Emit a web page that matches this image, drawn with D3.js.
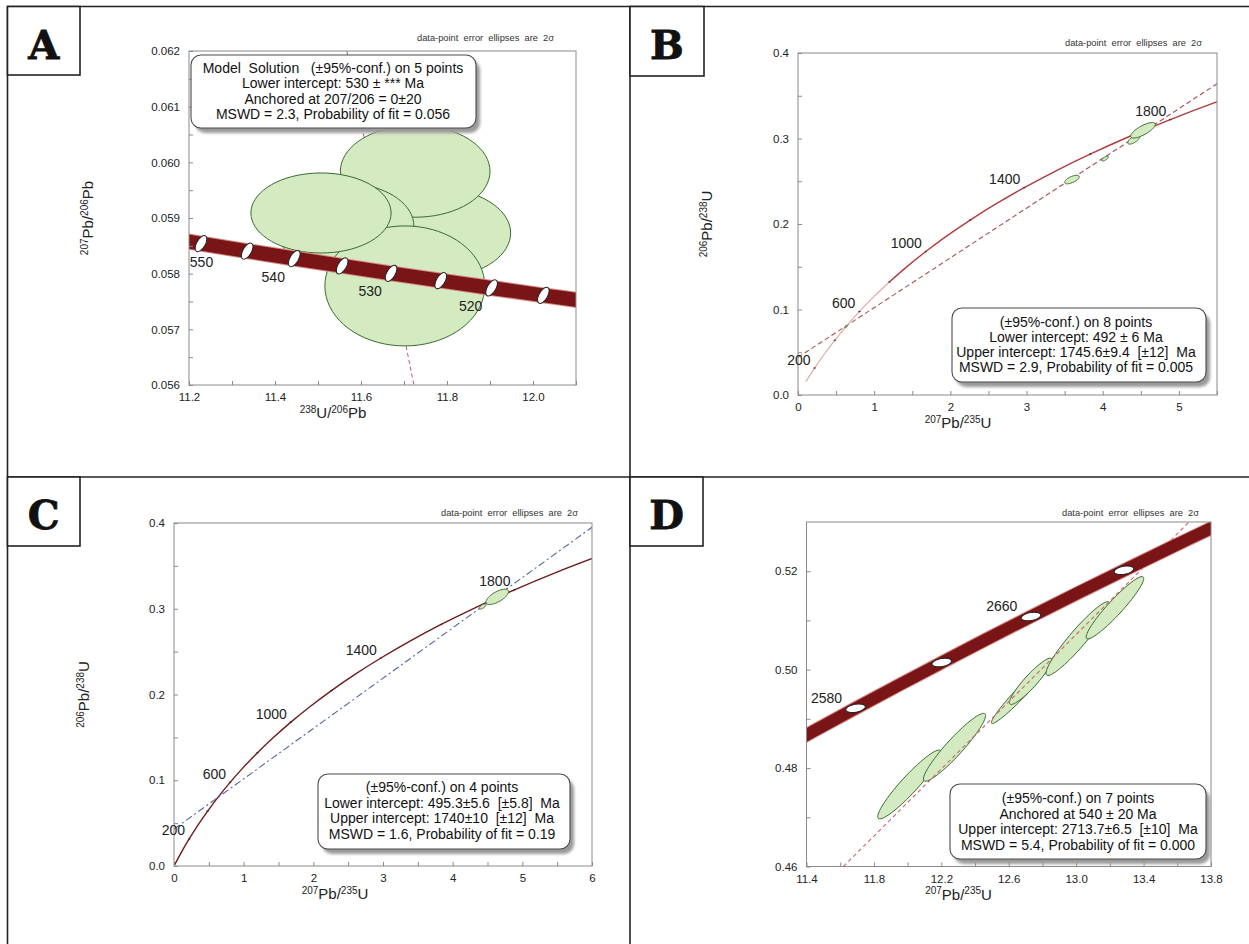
<!DOCTYPE html>
<html><head><meta charset="utf-8">
<script src="https://cdn.jsdelivr.net/npm/d3@7"></script>
<style>
html,body{margin:0;padding:0;background:#fff;}
svg text{font-family:"Liberation Sans",Arial,Helvetica,sans-serif;}
</style></head><body>
<svg id="fig" width="1249" height="944"></svg>
<script>
// ================= DATA =================
// Panel A : Tera-Wasserburg concordia (age, 238U/206Pb, 207Pb/206Pb)
const aConcAge = [510,515,520,525,530,535,540,545,550,555];
const aConcX = [12.1467,12.0240,11.9037,11.7854,11.6699,11.5562,11.4448,11.3353,11.2279,11.1222];
const aConcY = [0.057481,0.057611,0.057743,0.057874,0.058006,0.058139,0.058272,0.058405,0.058539,0.058673];
const aMarkerAges = [515,520,525,530,535,540,545,550];
const aLabelAges = [520,530,540,550];
// error ellipses: [x, 2s x, y, 2s y, rho]
const aEllipses = [
  [11.774,0.174,0.05873,0.000808,0],
  [11.726,0.174,0.05984,0.000826,0],
  [11.560,0.163,0.058856,0.000772,0],
  [11.702,0.186,0.05778,0.001078,0],
  [11.507,0.163,0.05909,0.000719,0]
];
const aLineX = [11.567,11.723], aLineY = [0.062,0.056];
const aXTicks = [11.2,11.4,11.6,11.8,12.0], aXMinor = [11.3,11.5,11.7,11.9,12.1];
const aYTicks = [0.056,0.057,0.058,0.059,0.060,0.061,0.062];
const aYMinor = [0.0565,0.0575,0.0585,0.0595,0.0605,0.0615];
const aBoxLines = ["Model  Solution   (±95%-conf.) on 5 points","Lower intercept: 530 ± *** Ma","Anchored at 207/206 = 0±20","MSWD = 2.3, Probability of fit = 0.056"];

// Panels B, C : Wetherill concordia (age, 207Pb/235U, 206Pb/238U)
const wAge = [0,100,200,300,400,500,600,700,800,900,1000,1100,1200,1300,1400,1500,1600,1700,1800,1900,2000];
const wX = [0,0.103498,0.217709,0.343737,0.482811,0.636280,0.805631,0.992510,1.198730,1.426296,1.677409,1.954516,2.260302,2.597739,2.970093,3.380990,3.834413,4.334766,4.886897,5.496178,6.168532];
const wY = [0,0.015633,0.031511,0.047637,0.064016,0.080650,0.097544,0.114702,0.132126,0.149823,0.167800,0.186055,0.204597,0.223427,0.242552,0.261975,0.281703,0.301738,0.322087,0.342753,0.363747];
const wMarkerAges = [200,400,600,800,1000,1200,1400,1600,1800];
const wLabelAges = [200,600,1000,1400,1800];

const bEllipses = [
  [0.630,0.020,0.0800,0.0013,0.7],
  [3.596,0.0954,0.2520,0.00503,0.65],
  [4.030,0.045,0.2765,0.0028,0.7],
  [4.410,0.0807,0.2990,0.00562,0.68],
  [4.528,0.162,0.3096,0.00909,0.76]
];
const bLineX = [0,5.5], bLineY = [0.044,0.364];
const bXTicks = [0,1,2,3,4,5], bXMinor = [0.5,1.5,2.5,3.5,4.5,5.5];
const bYTicks = [0,0.1,0.2,0.3,0.4], bYMinor = [0.05,0.15,0.25,0.35];
const bBoxLines = ["(±95%-conf.) on 8 points","Lower intercept: 492 ± 6 Ma","Upper intercept: 1745.6±9.4  [±12]  Ma","MSWD = 2.9, Probability of fit = 0.005"];

const cEllipses = [
  [4.430,0.050,0.3026,0.0030,0.7],
  [4.640,0.162,0.3139,0.00894,0.68]
];
const cLineX = [0,6], cLineY = [0.043,0.395];
const cXTicks = [0,1,2,3,4,5,6], cXMinor = [0.5,1.5,2.5,3.5,4.5,5.5];
const cYTicks = [0,0.1,0.2,0.3,0.4], cYMinor = [0.05,0.15,0.25,0.35];
const cBoxLines = ["(±95%-conf.) on 4 points","Lower intercept: 495.3±5.6  [±5.8]  Ma","Upper intercept: 1740±10  [±12]  Ma","MSWD = 1.6, Probability of fit = 0.19"];

// Panel D : Wetherill concordia, zoomed
const dConcAge = [2520,2540,2560,2580,2600,2620,2640,2660,2680,2700,2720,2740];
const dConcX = [10.963040,11.201012,11.443719,11.691253,11.943704,12.202486,12.463792,12.731612,13.004771,13.283351,13.567481,13.857264];
const dConcY = [0.478333,0.482927,0.487535,0.492157,0.496793,0.501444,0.506111,0.510791,0.515484,0.520193,0.524917,0.529656];
const dMarkerAges = [2580,2620,2660,2700];
const dLabelAges = [2580,2660];
const dEllipses = [
  [12.011,0.1885,0.47667,0.00700,0.935],
  [12.278,0.1845,0.48422,0.00690,0.935],
  [12.679,0.182,0.49558,0.00653,0.970],
  [12.730,0.126,0.49763,0.0047,0.920],
  [13.010,0.189,0.50631,0.0075,0.940],
  [13.230,0.171,0.51258,0.00633,0.940]
];
const dLineX = [11.619,13.670], dLineY = [0.46,0.53];
const dXTicks = [11.4,11.8,12.2,12.6,13.0,13.4,13.8], dXMinor = [11.6,12.0,12.4,12.8,13.2,13.6];
const dYTicks = [0.46,0.48,0.50,0.52], dYMinor = [0.47,0.49,0.51];
const dBoxLines = ["(±95%-conf.) on 7 points","Anchored at 540 ± 20 Ma","Upper intercept: 2713.7±6.5  [±10]  Ma","MSWD = 5.4, Probability of fit = 0.000"];

const panelLetters = ["A","B","C","D"];
const noteText = "data-point  error  ellipses  are  2σ";

// ================= DRAWING =================
const svg = d3.select("#fig");
const defs = svg.append("defs");
defs.append("filter").attr("id","shadowBlur").attr("x","-10%").attr("y","-10%").attr("width","130%").attr("height","130%")
  .append("feGaussianBlur").attr("stdDeviation",1.6);

const ELL_FILL = "#d4eac1", ELL_STROKE = "#3b6a31";

function makePanel(id, L, R, T, B, xd, yd) {
  const g = svg.append("g");
  const x = d3.scaleLinear().domain(xd).range([L, R]);
  const y = d3.scaleLinear().domain(yd).range([B, T]);
  defs.append("clipPath").attr("id", "clip" + id).append("rect")
    .attr("x", L).attr("y", T).attr("width", R - L).attr("height", B - T);
  const plot = g.append("g").attr("clip-path", `url(#clip${id})`);
  return {g, x, y, plot, L, R, T, B};
}

function styleAxis(sel) {
  sel.select(".domain").remove();
  sel.attr("font-family", null).attr("font-size", null);
  sel.selectAll("line").attr("stroke", "#8a8a8a").attr("stroke-width", 1);
  sel.selectAll("text").attr("font-size", 11.5).attr("fill", "#222");
}

function drawAxes(P, xMaj, xMin, yMaj, yMin, fx, fy) {
  const {g, x, y, L, R, T, B} = P;
  g.append("g").attr("transform", `translate(0,${B})`)
    .call(d3.axisBottom(x).tickValues(xMin).tickSize(-4).tickFormat(() => "")).call(styleAxis);
  g.append("g").attr("transform", `translate(0,${B})`)
    .call(d3.axisBottom(x).tickValues(xMaj).tickSize(-4).tickPadding(8).tickFormat(d3.format(fx))).call(styleAxis);
  g.append("g").attr("transform", `translate(${L},0)`)
    .call(d3.axisLeft(y).tickValues(yMin).tickSize(-4).tickFormat(() => "")).call(styleAxis);
  g.append("g").attr("transform", `translate(${L},0)`)
    .call(d3.axisLeft(y).tickValues(yMaj).tickSize(-4).tickPadding(9).tickFormat(d3.format(fy))).call(styleAxis);
  g.append("rect").attr("x", L).attr("y", T).attr("width", R - L).attr("height", B - T)
    .attr("fill", "none").attr("stroke", "#8a8a8a").attr("stroke-width", 1);
}

function ellPath(e, x, y) {
  const [cx, sx, cy, sy, r] = e;
  const k = Math.sqrt(1 - r * r);
  const pts = d3.range(72).map(i => {
    const t = i / 72 * 2 * Math.PI;
    return [x(cx + sx * Math.cos(t)), y(cy + sy * (r * Math.cos(t) + k * Math.sin(t)))];
  });
  return d3.line().curve(d3.curveCardinalClosed)(pts);
}

function drawEllipses(P, list) {
  P.plot.selectAll(null).data(list).enter().append("path")
    .attr("d", d => ellPath(d, P.x, P.y))
    .attr("fill", ELL_FILL).attr("stroke", ELL_STROKE).attr("stroke-width", 1);
}

function drawLine(P, xs, ys, color, dash, w) {
  const pts = xs.map((v, i) => [P.x(v), P.y(ys[i])]);
  P.plot.append("path").attr("d", d3.line()(pts)).attr("fill", "none")
    .attr("stroke", color).attr("stroke-width", w || 1).attr("stroke-dasharray", dash);
}

function concPoints(P, ages, xs, ys, filter) {
  return ages.map((a, i) => ({a, px: P.x(xs[i]), py: P.y(ys[i])})).filter(d => !filter || filter(d.a));
}

function drawBand(P, pts, w) {
  const line = d3.line().x(d => d.px).y(d => d.py).curve(d3.curveCatmullRom);
  P.plot.append("path").attr("d", line(pts)).attr("fill", "none").attr("stroke", "#d88a86").attr("stroke-width", w + 2);
  P.plot.append("path").attr("d", line(pts)).attr("fill", "none").attr("stroke", "#7a1517").attr("stroke-width", w);
}

function richText(sel, parts, base, sup) {
  parts.forEach(([t, s], i) => {
    const ts = sel.append("tspan").text(t).attr("font-size", s ? sup : base);
    if (s) ts.attr("dy", -5.5);
    else if (i > 0 && parts[i - 1][1]) ts.attr("dy", 5.5);
  });
}

function axisTitles(P, xParts, yParts, xdx, ydx) {
  const {g, L, T, B} = P;
  const xt = g.append("text").attr("x", L + xdx).attr("y", B + 33).attr("text-anchor", "middle").attr("fill", "#222");
  richText(xt, xParts, 15, 10);
  if (yParts) {
    const yt = g.append("text").attr("transform", `translate(${L - ydx},${(T + B) / 2}) rotate(-90)`)
      .attr("text-anchor", "middle").attr("fill", "#222");
    richText(yt, yParts, 15, 10);
  }
}

function note(P, dx, dy) {
  P.g.append("text").attr("x", P.R - dx).attr("y", P.T - dy).attr("text-anchor", "end")
    .attr("font-size", 9.3).attr("fill", "#333").style("white-space", "pre").text(noteText);
}

function infoBox(P, x0, y0, w, h, lines, cx, base0, step) {
  const g = P.g.append("g");
  g.append("rect").attr("x", x0 + 4).attr("y", y0 + 5).attr("width", w).attr("height", h).attr("rx", 10)
    .attr("fill", "#9a9a9a").attr("filter", "url(#shadowBlur)");
  g.append("rect").attr("x", x0).attr("y", y0).attr("width", w).attr("height", h).attr("rx", 10)
    .attr("fill", "#fff").attr("stroke", "#4a4a4a").attr("stroke-width", 1.1);
  g.selectAll(null).data(lines).enter().append("text")
    .attr("x", cx).attr("y", (d, i) => base0 + i * step).attr("text-anchor", "middle")
    .attr("font-size", 14).attr("fill", "#111").style("white-space", "pre").text(d => d);
}

const xU238 = [["238", true], ["U/", false], ["206", true], ["Pb", false]];
const yPb76 = [["207", true], ["Pb/", false], ["206", true], ["Pb", false]];
const x75 = [["207", true], ["Pb/", false], ["235", true], ["U", false]];
const y68 = [["206", true], ["Pb/", false], ["238", true], ["U", false]];

// ---------- Panel A ----------
{
  const P = makePanel("A", 189, 576, 51, 385, [11.2, 12.1], [0.056, 0.062]);
  drawLine(P, aLineX, aLineY, "#c05a62", "4,3", 1);
  drawEllipses(P, aEllipses);
  const pts = concPoints(P, aConcAge, aConcX, aConcY);
  drawBand(P, pts, 14);
  const mk = pts.filter(d => aMarkerAges.includes(d.a));
  P.plot.selectAll(null).data(mk).enter().append("ellipse")
    .attr("transform", d => `translate(${d.px},${d.py}) rotate(30)`)
    .attr("rx", 4.3).attr("ry", 9).attr("fill", "#fff").attr("stroke", "#222").attr("stroke-width", 1);
  drawAxes(P, aXTicks, aXMinor, aYTicks, aYMinor, ".1f", ".3f");
  P.g.selectAll(null).data(pts.filter(d => aLabelAges.includes(d.a))).enter().append("text")
    .attr("x", d => Math.max(d.px - 21, P.L + 12.5)).attr("y", d => d.py + 23)
    .attr("text-anchor", "middle").attr("font-size", 14).attr("fill", "#222").text(d => d.a);
  infoBox(P, 191, 55, 285, 73, aBoxLines, 333, 73, 15.3);
  note(P, 22, 10);
  axisTitles(P, xU238, yPb76, 144, 96);
}

// ---------- Panel B ----------
{
  const P = makePanel("B", 798, 1217, 53, 395, [0, 5.5], [0, 0.4]);
  drawLine(P, bLineX, bLineY, "#a85252", "5,3", 1.1);
  const all = concPoints(P, wAge, wX, wY, a => a >= 100);
  const line = d3.line().x(d => d.px).y(d => d.py).curve(d3.curveCatmullRom);
  P.plot.append("path").attr("d", line(all.filter(d => d.a <= 800))).attr("fill", "none").attr("stroke", "#e2a9a9").attr("stroke-width", 1.2);
  P.plot.append("path").attr("d", line(all.filter(d => d.a >= 800))).attr("fill", "none").attr("stroke", "#b03c3c").attr("stroke-width", 1.4);
  drawEllipses(P, bEllipses);
  const mk = all.filter(d => wMarkerAges.includes(d.a));
  P.plot.selectAll(null).data(mk).enter().append("ellipse").attr("cx", d => d.px).attr("cy", d => d.py)
    .attr("rx", 1.3).attr("ry", 0.8).attr("fill", "#5a3a3a");
  drawAxes(P, bXTicks, bXMinor, bYTicks, bYMinor, "d", ".1f");
  P.g.selectAll(null).data(all.filter(d => wLabelAges.includes(d.a))).enter().append("text")
    .attr("x", d => d.px - 4).attr("y", d => d.py - 3.5).attr("text-anchor", "end")
    .attr("font-size", 14).attr("fill", "#222").text(d => d.a);
  infoBox(P, 952, 308, 254, 74, bBoxLines, 1076, 326.5, 15.3);
  note(P, 15, 7);
  axisTitles(P, x75, y68, 160, 86);
}

// ---------- Panel C ----------
{
  const P = makePanel("C", 174, 592, 523, 866, [0, 6], [0, 0.4]);
  const all = concPoints(P, wAge, wX, wY);
  const line = d3.line().x(d => d.px).y(d => d.py).curve(d3.curveCatmullRom);
  P.plot.append("path").attr("d", line(all)).attr("fill", "none").attr("stroke", "#6e1c1c").attr("stroke-width", 1.4);
  drawLine(P, cLineX, cLineY, "#5664a6", "7,3,2,3", 1.1);
  drawEllipses(P, cEllipses);
  const mk = all.filter(d => wMarkerAges.includes(d.a));
  P.plot.selectAll(null).data(mk).enter().append("ellipse").attr("cx", d => d.px).attr("cy", d => d.py)
    .attr("rx", 1.3).attr("ry", 0.8).attr("fill", "#4a2a2a");
  drawAxes(P, cXTicks, cXMinor, cYTicks, cYMinor, "d", ".1f");
  P.g.selectAll(null).data(all.filter(d => wLabelAges.includes(d.a))).enter().append("text")
    .attr("x", d => d.px - 4).attr("y", d => d.py - 3.5).attr("text-anchor", "end")
    .attr("font-size", 14).attr("fill", "#222").text(d => d.a);
  infoBox(P, 318, 774, 252, 75, cBoxLines, 442, 792, 15.5);
  note(P, 14, 7);
  axisTitles(P, x75, y68, 161, 85);
}

// ---------- Panel D ----------
{
  const P = makePanel("D", 806.5, 1211, 522, 866.5, [11.4, 13.8], [0.46, 0.53]);
  drawEllipses(P, dEllipses);
  drawLine(P, dLineX, dLineY, "#d0646e", "4,3", 1.1);
  const pts = concPoints(P, dConcAge, dConcX, dConcY);
  drawBand(P, pts, 12);
  const mk = pts.filter(d => dMarkerAges.includes(d.a));
  P.plot.selectAll(null).data(mk).enter().append("ellipse")
    .attr("transform", d => `translate(${d.px},${d.py}) rotate(-10)`)
    .attr("rx", 10).attr("ry", 4).attr("fill", "#fff").attr("stroke", "#222").attr("stroke-width", 1);
  drawAxes(P, dXTicks, dXMinor, dYTicks, dYMinor, ".1f", ".2f");
  P.g.selectAll(null).data(pts.filter(d => dLabelAges.includes(d.a))).enter().append("text")
    .attr("x", d => d.px - 13.5).attr("y", d => d.py - 5.5).attr("text-anchor", "end")
    .attr("font-size", 14).attr("fill", "#222").text(d => d.a);
  infoBox(P, 950, 784, 256, 75, dBoxLines, 1078, 803, 15.7);
  note(P, 12, 6);
  axisTitles(P, x75, null, 152, 0);
}

// ---------- Figure frame & panel letters ----------
const frame = svg.append("g").attr("stroke", "#222").attr("stroke-width", 1.6);
frame.append("line").attr("x1", 7).attr("y1", 6.5).attr("x2", 1249).attr("y2", 6.5);
frame.append("line").attr("x1", 7.5).attr("y1", 6).attr("x2", 7.5).attr("y2", 944);
frame.append("line").attr("x1", 630).attr("y1", 6).attr("x2", 630).attr("y2", 944);
frame.append("line").attr("x1", 7).attr("y1", 477).attr("x2", 1249).attr("y2", 477);

const letterBoxes = [[7.5, 6.5, 72.5, 68.5], [630, 6.5, 74, 69.5], [7.5, 477, 72.5, 69], [630, 477, 73, 69]];
letterBoxes.forEach((b, i) => {
  svg.append("rect").attr("x", b[0]).attr("y", b[1]).attr("width", b[2]).attr("height", b[3])
    .attr("fill", "#fff").attr("stroke", "#222").attr("stroke-width", 1.6);
  svg.append("text").attr("x", b[0] + b[2] / 2).attr("y", b[1] + 52).attr("text-anchor", "middle")
    .attr("font-weight", "bold")
    .attr("font-size", 40).attr("fill", "#111").attr("stroke", "#111").attr("stroke-width", 0.8)
    .style("font-family", "'DejaVu Serif', 'Liberation Serif', serif")
    .text(panelLetters[i]);
});
</script>
</body></html>
